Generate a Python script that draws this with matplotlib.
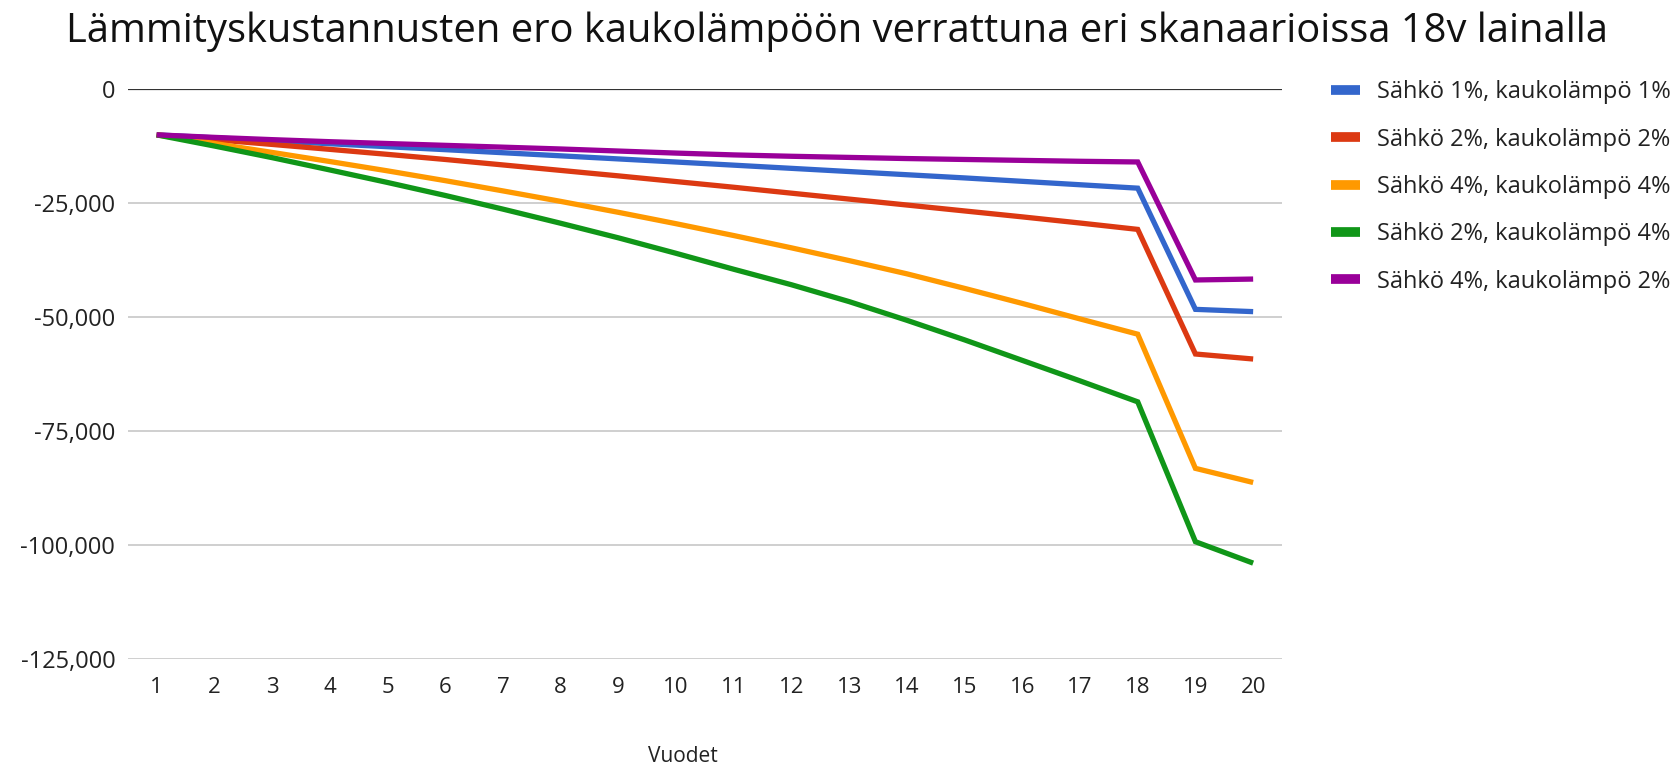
import matplotlib
matplotlib.use("Agg")
import matplotlib.pyplot as plt
from matplotlib.lines import Line2D
from matplotlib.ticker import FuncFormatter

plt.rcParams['font.family'] = ['Open Sans', 'DejaVu Sans']

years = list(range(1, 21))

series_labels = [
    "Sähkö 1%, kaukolämpö 1%",
    "Sähkö 2%, kaukolämpö 2%",
    "Sähkö 4%, kaukolämpö 4%",
    "Sähkö 2%, kaukolämpö 4%",
    "Sähkö 4%, kaukolämpö 2%",
]
colors = ["#3366CC", "#DC3912", "#FF9900", "#109618", "#990099"]

s_1_1 = [-10000, -10650, -11300, -11950, -12600, -13250, -13920, -14600, -15280, -15960,
         -16650, -17350, -18050, -18750, -19450, -20200, -20950, -21700, -48300, -48800]
s_2_2 = [-10000, -11050, -12100, -13180, -14280, -15400, -16600, -17800, -19000, -20250,
         -21500, -22800, -24100, -25400, -26700, -28000, -29350, -30750, -58100, -59200]
s_4_4 = [-10000, -11900, -13850, -15850, -17900, -20050, -22300, -24600, -27000, -29500,
         -32100, -34800, -37600, -40500, -43700, -47000, -50400, -53750, -83200, -86300]
s_2_4 = [-10000, -12450, -15000, -17700, -20450, -23300, -26300, -29400, -32600, -36000,
         -39500, -42900, -46600, -50700, -55000, -59500, -64000, -68600, -99300, -104000]
s_4_2 = [-10000, -10550, -11050, -11500, -11900, -12300, -12700, -13100, -13550, -14000,
         -14400, -14700, -14950, -15200, -15400, -15600, -15800, -15950, -41850, -41650]

series = [s_1_1, s_2_2, s_4_4, s_2_4, s_4_2]

yticks = [0, -25000, -50000, -75000, -100000, -125000]

W, H = 1673, 767
fig = plt.figure(figsize=(W / 100, H / 100), dpi=100)
ax = fig.add_axes([127.8 / W, 1 - 658.8 / H, (1282 - 127.8) / W, (658.8 - 89.3) / H])

for yt in yticks:
    if yt == 0:
        continue
    ax.axhline(yt, color="#CCCCCC", lw=1.3, zorder=1)
ax.axhline(0, color="#333333", lw=1.6, zorder=1)

for vals, col, lab in zip(series, colors, series_labels):
    ax.plot(years, vals, color=col, lw=3.8, label=lab, zorder=3,
            solid_joinstyle="miter", solid_capstyle="butt")

ax.set_xlim(0.5, 20.5)
ax.set_ylim(-125000, 0)
ax.set_xticks(years)
ax.set_yticks(yticks)
ax.yaxis.set_major_formatter(FuncFormatter(lambda v, p: f"{int(v):,}"))
ax.tick_params(axis="both", length=0, colors="#222222")
ax.tick_params(axis="y", pad=9, labelsize=17)
ax.tick_params(axis="x", pad=13, labelsize=16)
for sp in ax.spines.values():
    sp.set_visible(False)

fig.text(0.5, 1 - 32 / H, "Lämmityskustannusten ero kaukolämpöön verrattuna eri skanaarioissa 18v lainalla",
         ha="center", va="center", fontsize=28.7, color="#111111")
fig.text(683 / W, 1 - 757 / H, "Vuodet", ha="center", va="center", fontsize=15, color="#222222")

handles = [Line2D([0], [0], color=c, lw=7, solid_capstyle="butt") for c in colors]
fig.legend(handles, series_labels, loc="upper left",
           bbox_to_anchor=(1310 / W, 1 - 59 / H), frameon=False,
           fontsize=17, handlelength=1.2, handletextpad=0.75, labelspacing=0.99,
           labelcolor="#222222")

fig.savefig("out.png", dpi=100, facecolor="white")
